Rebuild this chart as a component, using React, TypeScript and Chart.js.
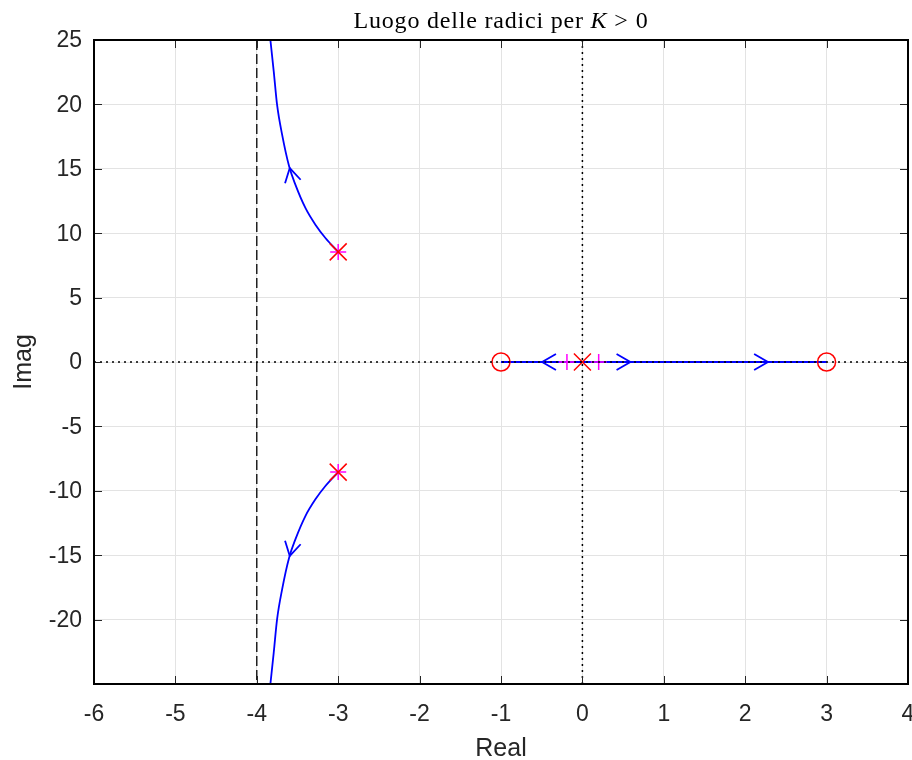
import React, { useEffect, useRef } from "react";
import { Chart, registerables } from "chart.js";

Chart.register(...registerables);

// ---- data ----
const xTicks = [-6, -5, -4, -3, -2, -1, 0, 1, 2, 3, 4];
const xTickLabels = ["-6", "-5", "-4", "-3", "-2", "-1", "0", "1", "2", "3", "4"];
const yTicks = [25, 20, 15, 10, 5, 0, -5, -10, -15, -20, -25];
const yTickLabels = ["25", "20", "15", "10", "5", "0", "-5", "-10", "-15", "-20", ""];

// upper complex branch (pole -3+8.55j toward asymptote Re=-4)
const upperRe = [-3.0, -3.157, -3.28, -3.403, -3.526, -3.603, -3.689, -3.751, -3.792, -3.833];
const upperIm = [8.55, 9.63, 10.66, 11.96, 13.77, 15.19, 17.65, 19.98, 22.57, 25.0];
// lower complex branch
const lowerRe = [-3.0, -3.157, -3.28, -3.403, -3.526, -3.603, -3.689, -3.751, -3.792, -3.833];
const lowerIm = [-8.55, -9.63, -10.66, -11.96, -13.77, -15.19, -17.65, -19.98, -22.57, -25.0];
// real-axis branches
const realBranchRe = [-1, 0, 3];
const realBranchIm = [0, 0, 0];

// zeros and poles
const zeroRe = [-1, 3];
const zeroIm = [0, 0];
const poleRe = [0, -3, -3];
const poleIm = [0, 8.55, -8.55];
// magenta start markers
const startRe = [-0.19, 0.2, -3, -3];
const startIm = [0, 0, 8.55, -8.55];

// arrows: tip and a point behind it (gives direction)
const arrowTipRe = [-3.595, -3.595, -0.495, 0.59, 2.28];
const arrowTipIm = [15.06, -15.06, 0, 0, 0];
const arrowFromRe = [-3.555, -3.555, -0.3, 0.4, 2.1];
const arrowFromIm = [13.95, -13.95, 0, 0, 0];

const asymptoteRe = -4;

const titleParts = [
  { text: "Luogo delle radici per ", italic: false, gap: 0 },
  { text: "K", italic: true, gap: 7 },
  { text: ">", italic: false, gap: 7 },
  { text: "0", italic: false, gap: 0 },
];
const xLabel = "Real";
const yLabel = "Imag";

const pts = (xs: number[], ys: number[]) => xs.map((v, i) => ({ x: v, y: ys[i] }));

const decor = {
  id: "decor",
  afterDatasetsDraw(chart: any) {
    const { ctx, chartArea: a, scales } = chart;
    const x = scales.x;
    const y = scales.y;
    ctx.save();
    ctx.beginPath();
    ctx.rect(a.left, a.top, a.right - a.left, a.bottom - a.top);
    ctx.clip();
    // dotted axes
    ctx.strokeStyle = "#000";
    ctx.lineWidth = 1.5;
    ctx.setLineDash([2, 4]);
    const x0 = x.getPixelForValue(0);
    const y0 = y.getPixelForValue(0);
    ctx.beginPath();
    ctx.moveTo(a.left, y0);
    ctx.lineTo(a.right, y0);
    ctx.moveTo(x0, a.top);
    ctx.lineTo(x0, a.bottom);
    ctx.stroke();
    // dashed asymptote
    ctx.setLineDash([10, 4]);
    ctx.lineWidth = 1.3;
    const xa = x.getPixelForValue(asymptoteRe);
    ctx.beginPath();
    ctx.moveTo(xa, a.top);
    ctx.lineTo(xa, a.bottom);
    ctx.stroke();
    ctx.setLineDash([]);
    // arrows
    ctx.strokeStyle = "#0000ff";
    ctx.lineWidth = 1.8;
    const L = 16;
    const half = (30 * Math.PI) / 180;
    for (let i = 0; i < arrowTipRe.length; i++) {
      const tx = x.getPixelForValue(arrowTipRe[i]);
      const ty = y.getPixelForValue(arrowTipIm[i]);
      const fx = x.getPixelForValue(arrowFromRe[i]);
      const fy = y.getPixelForValue(arrowFromIm[i]);
      const ang = Math.atan2(fy - ty, fx - tx);
      ctx.beginPath();
      ctx.moveTo(tx + L * Math.cos(ang + half), ty + L * Math.sin(ang + half));
      ctx.lineTo(tx, ty);
      ctx.lineTo(tx + L * Math.cos(ang - half), ty + L * Math.sin(ang - half));
      ctx.stroke();
    }
    ctx.restore();
  },
  afterDraw(chart: any) {
    const { ctx, chartArea: a, scales } = chart;
    const x = scales.x;
    const y = scales.y;
    ctx.save();
    // ticks inward
    ctx.strokeStyle = "#262626";
    ctx.lineWidth = 1;
    const T = 8;
    ctx.beginPath();
    xTicks.forEach((v) => {
      const px = Math.round(x.getPixelForValue(v)) + 0.5;
      ctx.moveTo(px, a.bottom);
      ctx.lineTo(px, a.bottom - T);
      ctx.moveTo(px, a.top);
      ctx.lineTo(px, a.top + T);
    });
    yTicks.forEach((v) => {
      const py = Math.round(y.getPixelForValue(v)) + 0.5;
      ctx.moveTo(a.left, py);
      ctx.lineTo(a.left + T, py);
      ctx.moveTo(a.right, py);
      ctx.lineTo(a.right - T, py);
    });
    ctx.stroke();
    // border
    ctx.strokeStyle = "#000";
    ctx.lineWidth = 2;
    ctx.strokeRect(a.left, a.top, a.right - a.left, a.bottom - a.top);
    // tick labels
    ctx.fillStyle = "#262626";
    ctx.font = '23px "Liberation Sans", Arial, sans-serif';
    ctx.textAlign = "center";
    ctx.textBaseline = "alphabetic";
    xTicks.forEach((v, i) => {
      ctx.fillText(xTickLabels[i], x.getPixelForValue(v), a.bottom + 37);
    });
    ctx.textAlign = "right";
    ctx.textBaseline = "middle";
    yTicks.forEach((v, i) => {
      ctx.fillText(yTickLabels[i], a.left - 12, y.getPixelForValue(v) + 1);
    });
    // axis labels
    ctx.font = '25px "Liberation Sans", Arial, sans-serif';
    ctx.textAlign = "center";
    ctx.textBaseline = "alphabetic";
    ctx.fillText(xLabel, (a.left + a.right) / 2, 756);
    ctx.save();
    ctx.translate(31, (a.top + a.bottom) / 2);
    ctx.rotate(-Math.PI / 2);
    ctx.fillText(yLabel, 0, 0);
    ctx.restore();
    // title
    ctx.fillStyle = "#000";
    (ctx as any).letterSpacing = "0.8px";
    const fonts = titleParts.map((p) =>
      (p.italic ? "italic " : "") + '24px "Liberation Serif", "Times New Roman", serif'
    );
    let total = 0;
    const widths = titleParts.map((p, i) => {
      ctx.font = fonts[i];
      const w = ctx.measureText(p.text).width + p.gap;
      total += w;
      return w;
    });
    let cx = (a.left + a.right) / 2 - total / 2;
    ctx.textAlign = "left";
    titleParts.forEach((p, i) => {
      ctx.font = fonts[i];
      ctx.fillText(p.text, cx, 28);
      cx += widths[i];
    });
    ctx.restore();
  },
};

export default function App() {
  const ref = useRef<HTMLCanvasElement>(null);
  useEffect(() => {
    if (!ref.current) return;
    const chart = new Chart(ref.current, {
      type: "scatter",
      data: {
        datasets: [
          {
            data: pts(poleRe, poleIm),
            showLine: false,
            pointStyle: "crossRot",
            pointRadius: 12,
            borderColor: "#ff0000",
            backgroundColor: "#ff0000",
            borderWidth: 1.5,
            order: 0,
          },
          {
            data: pts(zeroRe, zeroIm),
            showLine: false,
            pointStyle: "circle",
            pointRadius: 9,
            borderColor: "#ff0000",
            backgroundColor: "rgba(0,0,0,0)",
            borderWidth: 1.5,
            order: 1,
          },
          {
            data: pts(startRe, startIm),
            showLine: false,
            pointStyle: "cross",
            pointRadius: 8,
            borderColor: "#ff00ff",
            backgroundColor: "#ff00ff",
            borderWidth: 1.5,
            order: 2,
          },
          {
            data: pts(upperRe, upperIm),
            showLine: true,
            borderColor: "#0000ff",
            borderWidth: 1.8,
            pointRadius: 0,
            cubicInterpolationMode: "monotone",
            order: 3,
          },
          {
            data: pts(lowerRe, lowerIm),
            showLine: true,
            borderColor: "#0000ff",
            borderWidth: 1.8,
            pointRadius: 0,
            cubicInterpolationMode: "monotone",
            order: 3,
          },
          {
            data: pts(realBranchRe, realBranchIm),
            showLine: true,
            borderColor: "#0000ff",
            borderWidth: 1.8,
            pointRadius: 0,
            order: 3,
          },
        ],
      },
      options: {
        responsive: false,
        animation: false,
        layout: { autoPadding: false, padding: { top: 40, right: 4, left: 0, bottom: 0 } },
        plugins: { legend: { display: false }, tooltip: { enabled: false }, title: { display: false } },
        scales: {
          x: {
            type: "linear",
            min: -6,
            max: 4,
            afterBuildTicks: (s: any) => {
              s.ticks = xTicks.map((v) => ({ value: v }));
            },
            afterFit: (s: any) => {
              s.height = 76;
              s.paddingLeft = 0;
              s.paddingRight = 0;
            },
            ticks: { display: false },
            grid: { color: "#e3e3e3", lineWidth: 1, drawTicks: false },
            border: { display: false },
          },
          y: {
            type: "linear",
            min: -25,
            max: 25,
            afterBuildTicks: (s: any) => {
              s.ticks = yTicks.map((v) => ({ value: v }));
            },
            afterFit: (s: any) => {
              s.width = 94;
              s.paddingTop = 0;
              s.paddingBottom = 0;
            },
            ticks: { display: false },
            grid: { color: "#e3e3e3", lineWidth: 1, drawTicks: false },
            border: { display: false },
          },
        },
      },
      plugins: [decor],
    });
    return () => chart.destroy();
  }, []);
  return (
    <div style={{ position: "fixed", left: 0, top: 0, width: 912, height: 760, background: "#fff" }}>
      <canvas ref={ref} width={912} height={760} />
    </div>
  );
}
